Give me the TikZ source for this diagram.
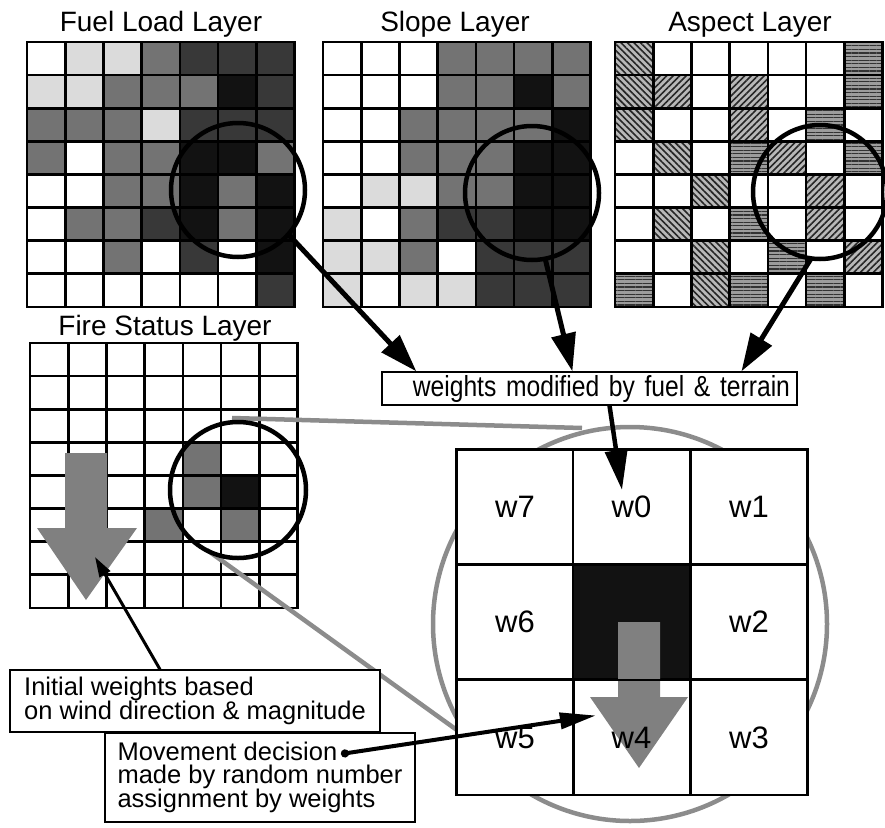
\documentclass[tikz,border=0pt]{standalone}
\usepackage{fontspec}
\setmainfont{Liberation Sans}
\newfontfamily\narrowsans[FakeStretch=0.85]{Liberation Sans}
\usetikzlibrary{arrows.meta,patterns.meta}

\definecolor{cellLight}{gray}{0.86}
\definecolor{cellMid}{gray}{0.45}
\definecolor{cellDark}{gray}{0.22}
\definecolor{cellBlack}{gray}{0.07}
\definecolor{hatchBg}{gray}{0.72}
\definecolor{windGray}{gray}{0.50}
\definecolor{zoomGray}{gray}{0.55}

\tikzset{
  gW/.style={fill=white},
  gL/.style={fill=cellLight},
  gM/.style={fill=cellMid},
  gD/.style={fill=cellDark},
  gB/.style={fill=cellBlack},
  hA/.style={fill=hatchBg, postaction={pattern={Lines[angle=-45,distance=4.6pt,line width=1.6pt]}, pattern color=black!85}},
  hB/.style={fill=hatchBg, postaction={pattern={Lines[angle=45,distance=4.6pt,line width=1.6pt]}, pattern color=black!85}},
  hH/.style={fill=hatchBg!85!black, postaction={pattern={Lines[angle=0,distance=3.6pt,line width=1.3pt]}, pattern color=black!80}},
  gridline/.style={line width=2.6pt, line cap=rect},
  lens/.style={line width=4.5pt},
  layertitle/.style={anchor=base, inner sep=0pt, font=\fontsize{28}{30}\selectfont},
  notebox/.style={draw, line width=1.2pt, fill=white, inner ysep=0pt},
  wcell/.style={draw, line width=2.6pt, fill=white, inner sep=0pt,
    minimum width=116.7pt, minimum height=115pt, font=\fontsize{31}{31}\selectfont},
  windarrow/.style={fill=windGray},
  zoomline/.style={draw=zoomGray, line width=4.5pt},
  bigarrow/.style={line width=5pt, -{Triangle[length=38pt,width=24pt]}},
}

% one 7x8 layer: top left corner x, y, then the rows of cell styles
\newcommand{\cellgrid}[3]{%
  \foreach \cellrow [count=\j from 0] in {#3} {
    \foreach \cellstyle [count=\i from 0] in \cellrow {
      \path[\cellstyle] (#1+\i*38.2, #2+\j*33.1) rectangle ++(38.2,33.1);
    }
  }
  \foreach \i in {0,...,7} \draw[gridline] (#1+\i*38.2, #2) -- ++(0,264.8);
  \foreach \j in {0,...,8} \draw[gridline] (#1, #2+\j*33.1) -- ++(267.4,0);
}

\begin{document}
\begin{tikzpicture}[x=1pt,y=-1pt]
  \useasboundingbox (0,0) rectangle (885,827);

  % Fuel Load Layer
  \cellgrid{27}{42}{
    {gW,gL,gL,gM,gD,gD,gD},
    {gL,gL,gM,gM,gM,gB,gD},
    {gM,gM,gM,gL,gD,gD,gD},
    {gM,gW,gM,gM,gB,gB,gM},
    {gW,gW,gM,gM,gB,gM,gB},
    {gW,gM,gM,gD,gB,gM,gB},
    {gW,gW,gM,gW,gD,gW,gB},
    {gW,gW,gW,gW,gW,gW,gD}}
  \node[layertitle] (fueltitle) at (161,31) {Fuel Load Layer};

  % Slope Layer
  \cellgrid{323}{42}{
    {gW,gW,gW,gM,gM,gM,gM},
    {gW,gW,gW,gM,gM,gB,gM},
    {gW,gW,gM,gM,gM,gM,gB},
    {gW,gW,gM,gM,gM,gB,gB},
    {gW,gL,gL,gM,gM,gB,gB},
    {gL,gW,gM,gD,gD,gB,gB},
    {gL,gL,gM,gW,gD,gD,gD},
    {gL,gW,gL,gL,gD,gD,gD}}
  \node[layertitle] (slopetitle) at (455,31) {Slope Layer};

  % Aspect Layer
  \cellgrid{615}{42}{
    {hA,gW,gW,gW,gW,gW,hH},
    {hA,hB,gW,hB,gW,gW,hH},
    {hA,gW,gW,hB,gW,hH,gW},
    {gW,hA,gW,hH,hB,gW,hH},
    {gW,gW,hA,gW,gW,hB,gW},
    {gW,hA,gW,hH,gW,hB,gW},
    {gW,gW,hA,gW,hH,gW,hB},
    {hH,gW,hA,hH,gW,hH,gW}}
  \node[layertitle] (aspecttitle) at (750,31) {Aspect Layer};

  % Fire Status Layer
  \cellgrid{30}{343}{
    {gW,gW,gW,gW,gW,gW,gW},
    {gW,gW,gW,gW,gW,gW,gW},
    {gW,gW,gW,gW,gW,gW,gW},
    {gW,gW,gW,gW,gM,gW,gW},
    {gW,gW,gW,gW,gM,gB,gW},
    {gW,gW,gW,gM,gW,gM,gW},
    {gW,gW,gW,gW,gW,gW,gW},
    {gW,gW,gW,gW,gW,gW,gW}}
  \node[layertitle] (firetitle) at (165,335) {Fire Status Layer};

  % Wind arrow on the fire layer
  \fill[windarrow] (65,453) -- (107,453) -- (107,528) -- (137,528)
    -- (86,600) -- (37,528) -- (65,528) -- cycle;

  % Zoom from the fire layer to the neighbourhood
  \coordinate (zoomA) at (232,418);
  \coordinate (zoomB) at (582,428);
  \coordinate (zoomC) at (207,550);
  \coordinate (zoomD) at (461,733);
  \draw[zoomline] (zoomA) -- (zoomB);
  \draw[zoomline] (zoomC) -- (zoomD);
  \draw[zoomline] (630,624) circle[radius=197pt];

  % Lenses
  \draw[lens] (238,190) circle[radius=67pt];
  \draw[lens] (532,193) circle[radius=67pt];
  \draw[lens] (820,192) circle[radius=67pt];
  \draw[lens] (238,490) circle[radius=68pt];

  % Neighbourhood weights
  \node[wcell] (w7) at (515,507) {w7};
  \node[wcell] (w0) at (631.5,507) {w0};
  \node[wcell] (w1) at (749,507) {w1};
  \node[wcell] (w6) at (515,622) {w6};
  \node[wcell, fill=cellBlack] (ctr) at (631.5,622) {};
  \node[wcell] (w2) at (749,622) {w2};
  \node[wcell] (w5) at (515,737.5) {w5};
  \node[wcell] (w3) at (749,737.5) {w3};
  \fill[windarrow] (618,622) -- (660,622) -- (660,697) -- (688,697)
    -- (639,768) -- (590,697) -- (618,697) -- cycle;
  \node[wcell, fill=none] (w4) at (631.5,737.5) {w4};

  % Notes
  \node[notebox, minimum width=415pt, minimum height=33pt, text width=401pt,
    inner xsep=7pt, align=right, font=\narrowsans\fontsize{29}{30}\selectfont]
    (wbox) at (589.5,388.5) {weights modified by fuel \& terrain};
  \node[notebox, minimum width=370pt, minimum height=62pt, align=left,
    font=\fontsize{25.5}{20}\selectfont]
    (initbox) at (195,701) {Initial weights based\\on wind direction \& magnitude};
  \node[notebox, minimum width=310pt, minimum height=89pt, align=left,
    font=\fontsize{25.5}{23}\selectfont]
    (movebox) at (260,777.5) {Movement decision\\made by random number\\assignment by weights};

  % Arrows
  \coordinate (fuelout) at (289,235);
  \coordinate (slopeout) at (545,258);
  \coordinate (aspectout) at (812,257);
  \draw[bigarrow] (fuelout) -- ([xshift=35pt]wbox.north west);
  \draw[bigarrow] (slopeout) -- ([xshift=191pt]wbox.north west);
  \draw[bigarrow] (aspectout) -- ([xshift=360pt]wbox.north west);
  \draw[line width=4.5pt, -{Triangle[length=40pt,width=22pt]}]
    ([xshift=20pt]wbox.south) -- ([xshift=-9.5pt,yshift=17pt]w0.center);

  \coordinate (windtip) at (95,557);
  \draw[line width=3pt, -{Triangle[length=20pt,width=12pt]}]
    ([xshift=-35pt]initbox.north) -- (windtip);

  \coordinate (movestart) at (341,754);
  \draw[line width=4pt, {Circle[length=8pt]}-{Triangle[length=36pt,width=16pt]}]
    (movestart) -- ([xshift=24pt,yshift=22pt]w4.west);
\end{tikzpicture}
\end{document}
